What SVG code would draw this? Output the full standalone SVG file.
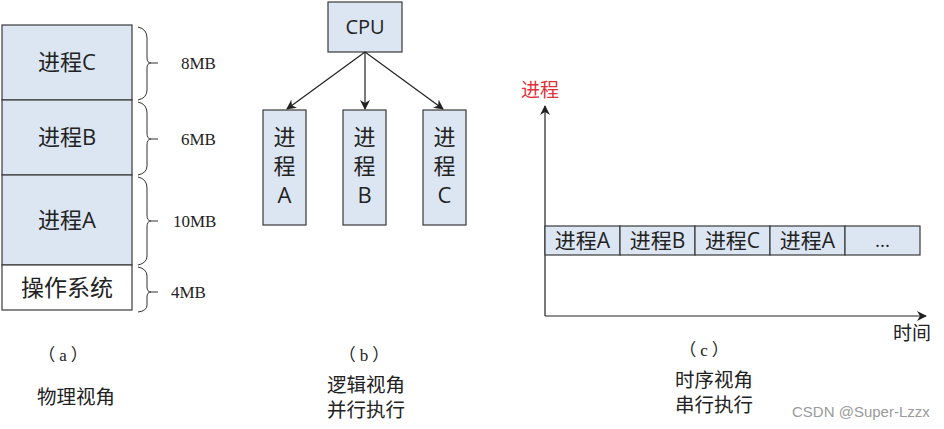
<svg xmlns="http://www.w3.org/2000/svg" width="944" height="429" viewBox="0 0 944 429">
<defs>
<style>
.box{fill:#dce6f2;stroke:#3a3a3a;stroke-width:1.2}
.wbox{fill:#ffffff;stroke:#3a3a3a;stroke-width:1.2}
.t{font-family:"Open Sans","Noto Sans CJK SC",sans-serif;fill:#222;text-anchor:middle}
.s{font-family:"Liberation Serif","Noto Sans CJK SC",serif;fill:#222}
.ln{stroke:#222;stroke-width:1.2;fill:none}
.br{stroke:#333;stroke-width:1;fill:none}
</style>
<marker id="ah" markerWidth="10" markerHeight="10" refX="9" refY="5" orient="auto" markerUnits="userSpaceOnUse">
<path d="M0,0 L10,5 L0,10 L3,5 Z" fill="#222"/>
</marker>
</defs>
<rect width="944" height="429" fill="#fff"/>

<!-- (a) physical view -->
<g id="procC_a"><rect class="box" x="2" y="25" width="130" height="75"/><text class="t" x="67" y="70" font-size="22">进程C</text></g>
<g id="procB_a"><rect class="box" x="2" y="100" width="130" height="75"/><text class="t" x="67" y="145" font-size="22">进程B</text></g>
<g id="procA_a"><rect class="box" x="2" y="175" width="130" height="90"/><text class="t" x="67" y="228" font-size="22">进程A</text></g>
<g id="os_a"><rect class="wbox" x="2" y="265" width="130" height="45"/><text class="t" x="67" y="296" font-size="23">操作系统</text></g>

<g id="braces">
<path class="br" d="M138,27 Q147,29 147,38 L147,58 Q147,63 151,63 Q147,63 147,68 L147,90 Q147,98 138,100"/>
<line class="br" x1="151" y1="63" x2="158" y2="63"/>
<path class="br" d="M138,102 Q147,104 147,113 L147,133 Q147,139 151,139 Q147,139 147,145 L147,166 Q147,173 138,175"/>
<line class="br" x1="151" y1="139" x2="158" y2="139"/>
<path class="br" d="M138,177 Q147,179 147,188 L147,215 Q147,221 151,221 Q147,221 147,227 L147,256 Q147,263 138,265"/>
<line class="br" x1="151" y1="221" x2="158" y2="221"/>
<path class="br" d="M138,267 Q147,269 147,276 L147,287 Q147,292 151,292 Q147,292 147,297 L147,305 Q147,311 138,312"/>
<line class="br" x1="151" y1="292" x2="158" y2="292"/>
</g>
<g id="sizes">
<text class="s" x="181" y="69" font-size="17">8MB</text>
<text class="s" x="181" y="145" font-size="17">6MB</text>
<text class="s" x="173" y="227" font-size="17">10MB</text>
<text class="s" x="171" y="298" font-size="17">4MB</text>
</g>

<!-- (b) logical view -->
<g id="cpu"><rect class="box" x="328" y="2" width="74" height="50"/><text class="t" x="365" y="34" font-size="20">CPU</text></g>
<g id="procA_b"><rect class="box" x="263" y="110" width="43" height="115"/><text class="t" x="284.5" y="145" font-size="22">进</text><text class="t" x="284.5" y="174" font-size="22">程</text><text class="t" x="284.5" y="203" font-size="22">A</text></g>
<g id="procB_b"><rect class="box" x="343" y="110" width="43" height="115"/><text class="t" x="364.5" y="145" font-size="22">进</text><text class="t" x="364.5" y="174" font-size="22">程</text><text class="t" x="364.5" y="203" font-size="22">B</text></g>
<g id="procC_b"><rect class="box" x="423" y="110" width="43" height="115"/><text class="t" x="444.5" y="145" font-size="22">进</text><text class="t" x="444.5" y="174" font-size="22">程</text><text class="t" x="444.5" y="203" font-size="22">C</text></g>

<g id="connectors">
<line class="ln" x1="365" y1="52" x2="287" y2="109" marker-end="url(#ah)"/>
<line class="ln" x1="365" y1="52" x2="365" y2="109" marker-end="url(#ah)"/>
<line class="ln" x1="365" y1="52" x2="443" y2="109" marker-end="url(#ah)"/>
<line class="ln" x1="545" y1="316" x2="545" y2="106" marker-end="url(#ah)"/>
<line class="ln" x1="545" y1="316" x2="926" y2="316" marker-end="url(#ah)"/>
</g>

<!-- (c) timeline -->
<g id="axis_labels">
<text class="s" x="521" y="97" font-size="19" style="fill:#e0303a">进程</text>
<text class="s" x="893" y="340" font-size="19">时间</text>
</g>
<g id="bar">
<g id="seg1"><rect class="box" x="545" y="226" width="75" height="29"/><text class="t" x="582.5" y="248" font-size="21">进程A</text></g>
<g id="seg2"><rect class="box" x="620" y="226" width="75" height="29"/><text class="t" x="657.5" y="248" font-size="21">进程B</text></g>
<g id="seg3"><rect class="box" x="695" y="226" width="75" height="29"/><text class="t" x="732.5" y="248" font-size="21">进程C</text></g>
<g id="seg4"><rect class="box" x="770" y="226" width="75" height="29"/><text class="t" x="807.5" y="248" font-size="21">进程A</text></g>
<g id="seg5"><rect class="box" x="845" y="226" width="75" height="29"/><text class="t" x="882.5" y="247" font-size="19">...</text></g>
</g>

<g id="captions">
<text class="s" x="65" y="361" font-size="17" text-anchor="middle" letter-spacing="4">（a）</text>
<text class="s" x="37" y="404" font-size="19.5">物理视角</text>
<text class="s" x="366" y="361" font-size="17" text-anchor="middle" letter-spacing="4">（b）</text>
<text class="s" x="327" y="392" font-size="19.5">逻辑视角</text>
<text class="s" x="327" y="417" font-size="19.5">并行执行</text>
<text class="s" x="706" y="356" font-size="17" text-anchor="middle" letter-spacing="4">（c）</text>
<text class="s" x="675" y="387" font-size="19.5">时序视角</text>
<text class="s" x="675" y="412" font-size="19.5">串行执行</text>
<text x="792" y="417" font-size="15" font-family="'Liberation Sans',sans-serif" fill="#9a9a9a">CSDN @Super-Lzzx</text>
</g>
</svg>
